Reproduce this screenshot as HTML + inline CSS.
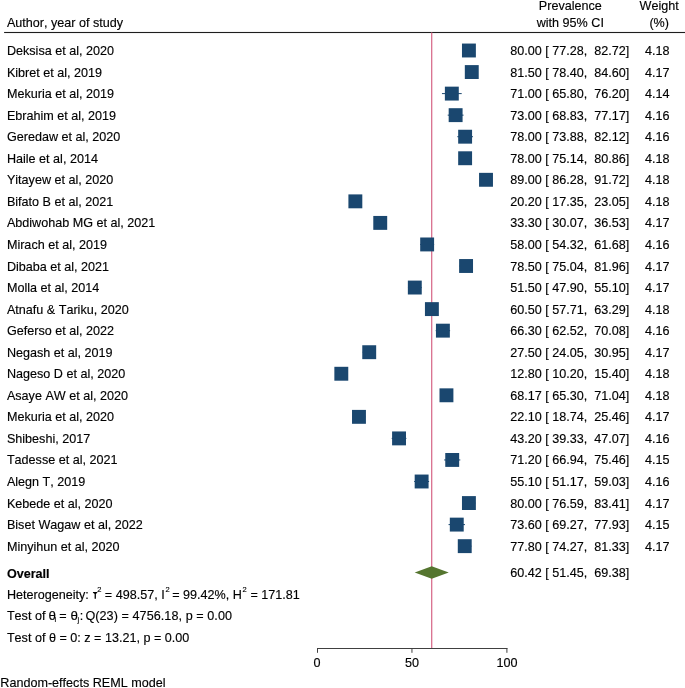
<!DOCTYPE html>
<html><head><meta charset="utf-8"><style>
html,body{margin:0;padding:0;background:#fff;}
svg{display:block;will-change:transform;}
text{white-space:pre;font-kerning:none;font-family:"Liberation Sans",sans-serif;font-size:12.6px;fill:#000;stroke:#000;stroke-width:0.15px;}
</style></head><body>
<svg width="685" height="688" viewBox="0 0 685 688">

<text x="6.9" y="27">Author, year of study</text>
<text x="570.3" y="10" text-anchor="middle">Prevalence</text>
<text x="570.3" y="26.5" text-anchor="middle">with 95% CI</text>
<text x="659.2" y="10" text-anchor="middle">Weight</text>
<text x="659.2" y="26.5" text-anchor="middle">(%)</text>
<rect x="4.1" y="31.95" width="681" height="1.1" fill="#1e1e1e"/>
<rect x="431.04" y="32.5" width="1.3" height="615.5" fill="#d9708f"/>
<text x="6.9" y="55.00">Deksisa et al, 2020</text>
<text x="569.8" y="55.00" text-anchor="middle" xml:space="preserve">80.00 [ 77.28,  82.72]</text>
<text x="657.3" y="55.00" text-anchor="middle">4.18</text>
<rect x="463.75" y="50.00" width="10.33" height="1" fill="#1a476f"/>
<rect x="461.97" y="43.55" width="13.9" height="13.9" fill="#1a476f"/>
<text x="6.9" y="76.55">Kibret et al, 2019</text>
<text x="569.8" y="76.55" text-anchor="middle" xml:space="preserve">81.50 [ 78.40,  84.60]</text>
<text x="657.3" y="76.55" text-anchor="middle">4.17</text>
<rect x="465.88" y="71.55" width="11.77" height="1" fill="#1a476f"/>
<rect x="464.82" y="65.10" width="13.9" height="13.9" fill="#1a476f"/>
<text x="6.9" y="98.10">Mekuria et al, 2019</text>
<text x="569.8" y="98.10" text-anchor="middle" xml:space="preserve">71.00 [ 65.80,  76.20]</text>
<text x="657.3" y="98.10" text-anchor="middle">4.14</text>
<rect x="441.95" y="93.10" width="19.75" height="1" fill="#1a476f"/>
<rect x="444.88" y="86.65" width="13.9" height="13.9" fill="#1a476f"/>
<text x="6.9" y="119.65">Ebrahim et al, 2019</text>
<text x="569.8" y="119.65" text-anchor="middle" xml:space="preserve">73.00 [ 68.83,  77.17]</text>
<text x="657.3" y="119.65" text-anchor="middle">4.16</text>
<rect x="447.71" y="114.65" width="15.84" height="1" fill="#1a476f"/>
<rect x="448.68" y="108.20" width="13.9" height="13.9" fill="#1a476f"/>
<text x="6.9" y="141.20">Geredaw et al, 2020</text>
<text x="569.8" y="141.20" text-anchor="middle" xml:space="preserve">78.00 [ 73.88,  82.12]</text>
<text x="657.3" y="141.20" text-anchor="middle">4.16</text>
<rect x="457.30" y="136.20" width="15.65" height="1" fill="#1a476f"/>
<rect x="458.17" y="129.75" width="13.9" height="13.9" fill="#1a476f"/>
<text x="6.9" y="162.75">Haile et al, 2014</text>
<text x="569.8" y="162.75" text-anchor="middle" xml:space="preserve">78.00 [ 75.14,  80.86]</text>
<text x="657.3" y="162.75" text-anchor="middle">4.18</text>
<rect x="459.69" y="157.75" width="10.86" height="1" fill="#1a476f"/>
<rect x="458.17" y="151.30" width="13.9" height="13.9" fill="#1a476f"/>
<text x="6.9" y="184.30">Yitayew et al, 2020</text>
<text x="569.8" y="184.30" text-anchor="middle" xml:space="preserve">89.00 [ 86.28,  91.72]</text>
<text x="657.3" y="184.30" text-anchor="middle">4.18</text>
<rect x="480.85" y="179.30" width="10.33" height="1" fill="#1a476f"/>
<rect x="479.06" y="172.85" width="13.9" height="13.9" fill="#1a476f"/>
<text x="6.9" y="205.85">Bifato B et al, 2021</text>
<text x="569.8" y="205.85" text-anchor="middle" xml:space="preserve">20.20 [ 17.35,  23.05]</text>
<text x="657.3" y="205.85" text-anchor="middle">4.18</text>
<rect x="349.95" y="200.85" width="10.82" height="1" fill="#1a476f"/>
<rect x="348.41" y="194.40" width="13.9" height="13.9" fill="#1a476f"/>
<text x="6.9" y="227.40">Abdiwohab MG et al, 2021</text>
<text x="569.8" y="227.40" text-anchor="middle" xml:space="preserve">33.30 [ 30.07,  36.53]</text>
<text x="657.3" y="227.40" text-anchor="middle">4.17</text>
<rect x="374.10" y="222.40" width="12.27" height="1" fill="#1a476f"/>
<rect x="373.29" y="215.95" width="13.9" height="13.9" fill="#1a476f"/>
<text x="6.9" y="248.95">Mirach et al, 2019</text>
<text x="569.8" y="248.95" text-anchor="middle" xml:space="preserve">58.00 [ 54.32,  61.68]</text>
<text x="657.3" y="248.95" text-anchor="middle">4.16</text>
<rect x="420.15" y="243.95" width="13.98" height="1" fill="#1a476f"/>
<rect x="420.19" y="237.50" width="13.9" height="13.9" fill="#1a476f"/>
<text x="6.9" y="270.50">Dibaba et al, 2021</text>
<text x="569.8" y="270.50" text-anchor="middle" xml:space="preserve">78.50 [ 75.04,  81.96]</text>
<text x="657.3" y="270.50" text-anchor="middle">4.17</text>
<rect x="459.50" y="265.50" width="13.14" height="1" fill="#1a476f"/>
<rect x="459.12" y="259.05" width="13.9" height="13.9" fill="#1a476f"/>
<text x="6.9" y="292.05">Molla et al, 2014</text>
<text x="569.8" y="292.05" text-anchor="middle" xml:space="preserve">51.50 [ 47.90,  55.10]</text>
<text x="657.3" y="292.05" text-anchor="middle">4.17</text>
<rect x="407.96" y="287.05" width="13.67" height="1" fill="#1a476f"/>
<rect x="407.85" y="280.60" width="13.9" height="13.9" fill="#1a476f"/>
<text x="6.9" y="313.60">Atnafu &amp; Tariku, 2020</text>
<text x="569.8" y="313.60" text-anchor="middle" xml:space="preserve">60.50 [ 57.71,  63.29]</text>
<text x="657.3" y="313.60" text-anchor="middle">4.18</text>
<rect x="426.59" y="308.60" width="10.60" height="1" fill="#1a476f"/>
<rect x="424.94" y="302.15" width="13.9" height="13.9" fill="#1a476f"/>
<text x="6.9" y="335.15">Geferso et al, 2022</text>
<text x="569.8" y="335.15" text-anchor="middle" xml:space="preserve">66.30 [ 62.52,  70.08]</text>
<text x="657.3" y="335.15" text-anchor="middle">4.16</text>
<rect x="435.73" y="330.15" width="14.36" height="1" fill="#1a476f"/>
<rect x="435.95" y="323.70" width="13.9" height="13.9" fill="#1a476f"/>
<text x="6.9" y="356.70">Negash et al, 2019</text>
<text x="569.8" y="356.70" text-anchor="middle" xml:space="preserve">27.50 [ 24.05,  30.95]</text>
<text x="657.3" y="356.70" text-anchor="middle">4.17</text>
<rect x="362.67" y="351.70" width="13.10" height="1" fill="#1a476f"/>
<rect x="362.27" y="345.25" width="13.9" height="13.9" fill="#1a476f"/>
<text x="6.9" y="378.25">Nageso D et al, 2020</text>
<text x="569.8" y="378.25" text-anchor="middle" xml:space="preserve">12.80 [ 10.20,  15.40]</text>
<text x="657.3" y="378.25" text-anchor="middle">4.18</text>
<rect x="336.37" y="373.25" width="9.87" height="1" fill="#1a476f"/>
<rect x="334.36" y="366.80" width="13.9" height="13.9" fill="#1a476f"/>
<text x="6.9" y="399.80">Asaye AW et al, 2020</text>
<text x="569.8" y="399.80" text-anchor="middle" xml:space="preserve">68.17 [ 65.30,  71.04]</text>
<text x="657.3" y="399.80" text-anchor="middle">4.18</text>
<rect x="441.00" y="394.80" width="10.90" height="1" fill="#1a476f"/>
<rect x="439.50" y="388.35" width="13.9" height="13.9" fill="#1a476f"/>
<text x="6.9" y="421.35">Mekuria et al, 2020</text>
<text x="569.8" y="421.35" text-anchor="middle" xml:space="preserve">22.10 [ 18.74,  25.46]</text>
<text x="657.3" y="421.35" text-anchor="middle">4.17</text>
<rect x="352.59" y="416.35" width="12.76" height="1" fill="#1a476f"/>
<rect x="352.02" y="409.90" width="13.9" height="13.9" fill="#1a476f"/>
<text x="6.9" y="442.90">Shibeshi, 2017</text>
<text x="569.8" y="442.90" text-anchor="middle" xml:space="preserve">43.20 [ 39.33,  47.07]</text>
<text x="657.3" y="442.90" text-anchor="middle">4.16</text>
<rect x="391.69" y="437.90" width="14.70" height="1" fill="#1a476f"/>
<rect x="392.09" y="431.45" width="13.9" height="13.9" fill="#1a476f"/>
<text x="6.9" y="464.45">Tadesse et al, 2021</text>
<text x="569.8" y="464.45" text-anchor="middle" xml:space="preserve">71.20 [ 66.94,  75.46]</text>
<text x="657.3" y="464.45" text-anchor="middle">4.15</text>
<rect x="444.12" y="459.45" width="16.18" height="1" fill="#1a476f"/>
<rect x="445.26" y="453.00" width="13.9" height="13.9" fill="#1a476f"/>
<text x="6.9" y="486.00">Alegn T, 2019</text>
<text x="569.8" y="486.00" text-anchor="middle" xml:space="preserve">55.10 [ 51.17,  59.03]</text>
<text x="657.3" y="486.00" text-anchor="middle">4.16</text>
<rect x="414.17" y="481.00" width="14.93" height="1" fill="#1a476f"/>
<rect x="414.68" y="474.55" width="13.9" height="13.9" fill="#1a476f"/>
<text x="6.9" y="507.55">Kebede et al, 2020</text>
<text x="569.8" y="507.55" text-anchor="middle" xml:space="preserve">80.00 [ 76.59,  83.41]</text>
<text x="657.3" y="507.55" text-anchor="middle">4.17</text>
<rect x="462.44" y="502.55" width="12.95" height="1" fill="#1a476f"/>
<rect x="461.97" y="496.10" width="13.9" height="13.9" fill="#1a476f"/>
<text x="6.9" y="529.10">Biset Wagaw et al, 2022</text>
<text x="569.8" y="529.10" text-anchor="middle" xml:space="preserve">73.60 [ 69.27,  77.93]</text>
<text x="657.3" y="529.10" text-anchor="middle">4.15</text>
<rect x="448.54" y="524.10" width="16.45" height="1" fill="#1a476f"/>
<rect x="449.82" y="517.65" width="13.9" height="13.9" fill="#1a476f"/>
<text x="6.9" y="550.65">Minyihun et al, 2020</text>
<text x="569.8" y="550.65" text-anchor="middle" xml:space="preserve">77.80 [ 74.27,  81.33]</text>
<text x="657.3" y="550.65" text-anchor="middle">4.17</text>
<rect x="458.04" y="545.65" width="13.41" height="1" fill="#1a476f"/>
<rect x="457.79" y="539.20" width="13.9" height="13.9" fill="#1a476f"/>
<polygon points="414.70,572.5 431.74,566.2 448.75,572.5 431.74,578.8" fill="#55752f"/>
<text x="6.9" y="577.5" font-weight="bold">Overall</text>
<text x="569.8" y="577.0" text-anchor="middle" xml:space="preserve">60.42 [ 51.45,  69.38]</text>
<text x="6.9" y="599">Heterogeneity: </text>
<path d="M92.8,592.0 L97.4,592.0 L97.1,592.9 Q96.1,593.1 95.9,594 L95.9,598.8 L94.6,598.8 L94.6,594 Q94.4,593.1 93.2,592.9 Z" fill="#000"/>
<text x="97.3" y="591.6" style="font-size:7.5px">2</text>
<text x="104.8" y="599">= 498.57, I</text>
<text x="165.4" y="591.6" style="font-size:7.5px">2</text>
<text x="172.2" y="599">= 99.42%, H</text>
<text x="242.6" y="591.6" style="font-size:7.5px">2</text>
<text x="250.4" y="599">= 171.81</text>
<text x="6.9" y="620.4">Test of </text>
<text x="48.6" y="620.4" style="font-size:13.4px">θ</text>
<text x="54.5" y="621.6" style="font-size:7.5px">i</text>
<text x="59.3" y="620.4">=</text>
<text x="70.6" y="620.4" style="font-size:13.4px">θ</text>
<text x="77.6" y="621.6" style="font-size:7.5px">j</text>
<text x="79.7" y="620.4">:</text>
<text x="85.4" y="620.4" style="letter-spacing:0.07px">Q(23) = 4756.18, p = 0.00</text>
<text x="6.9" y="641.5">Test of θ = 0: z = 13.21, p = 0.00</text>
<rect x="317" y="648" width="190.40" height="1" fill="#404040"/>
<rect x="317.00" y="648" width="1" height="4.8" fill="#404040"/>
<text x="317.00" y="666.8" text-anchor="middle">0</text>
<rect x="411.45" y="648" width="1" height="4.8" fill="#404040"/>
<text x="411.95" y="666.8" text-anchor="middle">50</text>
<rect x="506.40" y="648" width="1" height="4.8" fill="#404040"/>
<text x="506.90" y="666.8" text-anchor="middle">100</text>
<text x="0.3" y="686.8">Random-effects REML model</text>
</svg></body></html>
